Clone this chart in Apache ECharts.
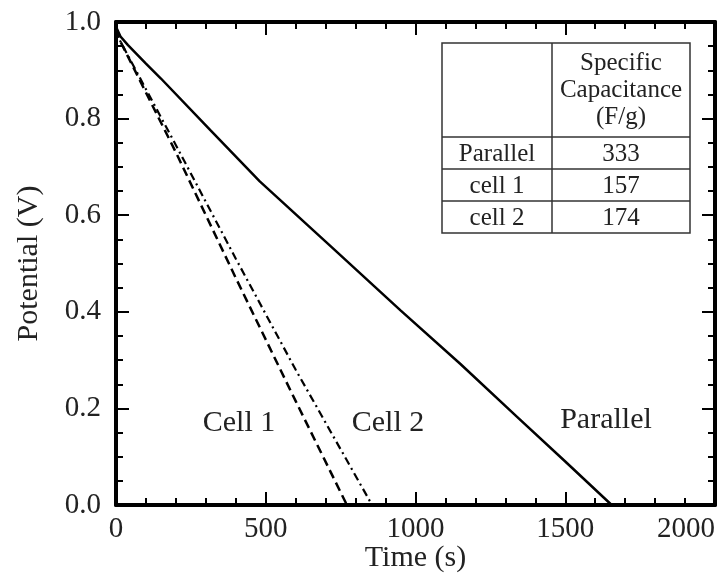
<!DOCTYPE html>
<html>
<head>
<meta charset="utf-8">
<script src="https://cdn.jsdelivr.net/npm/echarts@6/dist/echarts.min.js"></script>
<style>
  html, body { margin: 0; padding: 0; background: #fff; }
  #chart { width: 726px; height: 577px; }
</style>
</head>
<body>
<div id="chart"></div>
<script>
// discharge curves
const parallelTime = [0, 15, 40, 100, 150, 315, 480, 720, 950, 1150, 1340, 1500, 1655]
const parallelPotential = [0.99, 0.97, 0.952, 0.914, 0.883, 0.776, 0.67, 0.534, 0.403, 0.292, 0.182, 0.09, 0]

const cell1Time = [0, 12, 200, 400, 600, 771]
const cell1Potential = [0.985, 0.963, 0.73, 0.47, 0.215, 0]

const cell2Time = [0, 12, 200, 400, 600, 855]
const cell2Potential = [0.985, 0.963, 0.745, 0.51, 0.28, 0]

const curveLabels = ['Cell 1', 'Cell 2', 'Parallel']

const tableHeader = ['Specific', 'Capacitance', '(F/g)']
const tableNames = ['Parallel', 'cell 1', 'cell 2']
const tableValues = [333, 157, 174]

const font = 'Liberation Serif'
const ink = '#222'

const zip = (xs, ys) => xs.map((x, i) => [x, ys[i]])

const chart = echarts.init(document.getElementById('chart'))

const axisCommon = (showLabel) => ({
  axisLine: { show: true, onZero: false, lineStyle: { color: '#000', width: 4 } },
  axisTick: { show: true, inside: true, length: 13, lineStyle: { color: '#000', width: 2 } },
  minorTick: { show: true, length: 7, lineStyle: { color: '#000', width: 2 } },
  splitLine: { show: false },
  axisLabel: {
    show: showLabel,
    color: ink,
    fontFamily: font,
    fontSize: 29,
  },
})

const xBase = (pos, showLabel) => {
  const a = axisCommon(showLabel)
  return {
    type: 'value',
    position: pos,
    min: 0,
    max: 2000,
    interval: 500,
    minorTick: Object.assign(a.minorTick, { splitNumber: 5 }),
    axisLine: a.axisLine,
    axisTick: a.axisTick,
    splitLine: a.splitLine,
    axisLabel: Object.assign(a.axisLabel, {
      margin: 10,
      alignMaxLabel: 'right',
      formatter: (v) => String(v),
    }),
  }
}

const yBase = (pos, showLabel) => {
  const a = axisCommon(showLabel)
  return {
    type: 'value',
    position: pos,
    min: 0,
    max: 1,
    interval: 0.2,
    minorTick: Object.assign(a.minorTick, { splitNumber: 4 }),
    axisLine: a.axisLine,
    axisTick: a.axisTick,
    splitLine: a.splitLine,
    axisLabel: Object.assign(a.axisLabel, {
      margin: 15,
      formatter: (v) => v.toFixed(1),
    }),
  }
}

const xMain = xBase('bottom', true)
xMain.name = 'Time (s)'
xMain.nameLocation = 'middle'
xMain.nameGap = 38
xMain.nameMoveOverlap = false
xMain.nameTextStyle = { color: ink, fontFamily: font, fontSize: 30 }

const yMain = yBase('left', true)
yMain.name = 'Potential (V)'
yMain.nameLocation = 'middle'
yMain.nameGap = 72
yMain.nameTextStyle = { color: ink, fontFamily: font, fontSize: 30 }

// table in the upper right corner
const tLeft = 442, tRight = 690, tMid = 552
const tTop = 43, tHead = 137, rowH = 32
const tBottom = tHead + rowH * tableNames.length
const tableFont = { fontFamily: font, fontSize: 25, fill: ink, align: 'center', verticalAlign: 'middle' }
const tableLine = { stroke: '#333', lineWidth: 1.5 }

const tableGraphics = [
  {
    type: 'rect',
    shape: { x: tLeft, y: tTop, width: tRight - tLeft, height: tBottom - tTop },
    style: Object.assign({ fill: '#fff' }, tableLine),
    z: 10,
  },
  {
    type: 'line',
    shape: { x1: tMid, y1: tTop, x2: tMid, y2: tBottom },
    style: tableLine,
    z: 11,
  },
]
tableNames.forEach((n, i) => {
  const y = tHead + rowH * i
  tableGraphics.push({
    type: 'line',
    shape: { x1: tLeft, y1: y, x2: tRight, y2: y },
    style: tableLine,
    z: 11,
  })
  tableGraphics.push({
    type: 'text',
    style: Object.assign({ text: n, x: (tLeft + tMid) / 2, y: y + rowH / 2 + 1 }, tableFont),
    z: 12,
  })
  tableGraphics.push({
    type: 'text',
    style: Object.assign({ text: String(tableValues[i]), x: (tMid + tRight) / 2, y: y + rowH / 2 + 1 }, tableFont),
    z: 12,
  })
})
tableHeader.forEach((h, i) => {
  tableGraphics.push({
    type: 'text',
    style: Object.assign({ text: h, x: (tMid + tRight) / 2, y: 63 + i * 27 }, tableFont),
    z: 12,
  })
})

// curve annotations
const labelSpots = [[239, 423], [388, 423], [606, 420]]
const labelGraphics = curveLabels.map((t, i) => ({
  type: 'text',
  style: {
    text: t,
    x: labelSpots[i][0],
    y: labelSpots[i][1],
    fontFamily: font,
    fontSize: 30,
    fill: ink,
    align: 'center',
    verticalAlign: 'middle',
  },
  z: 12,
}))

const option = {
  animation: false,
  backgroundColor: '#fff',
  grid: { left: 116, right: 11, top: 22, bottom: 72, outerBoundsMode: 'none' },
  xAxis: [xMain, xBase('top', false)],
  yAxis: [yMain, yBase('right', false)],
  series: [
    {
      name: 'Parallel',
      type: 'line',
      data: zip(parallelTime, parallelPotential),
      showSymbol: false,
      lineStyle: { color: '#000', width: 2.5 },
    },
    {
      name: 'Cell 1',
      type: 'line',
      data: zip(cell1Time, cell1Potential),
      showSymbol: false,
      lineStyle: { color: '#000', width: 2.5, type: [9, 5] },
    },
    {
      name: 'Cell 2',
      type: 'line',
      data: zip(cell2Time, cell2Potential),
      showSymbol: false,
      lineStyle: { color: '#000', width: 2.2, type: [8, 4, 2, 4] },
    },
  ],
  graphic: tableGraphics.concat(labelGraphics),
}

option && chart.setOption(option)
</script>
</body>
</html>
